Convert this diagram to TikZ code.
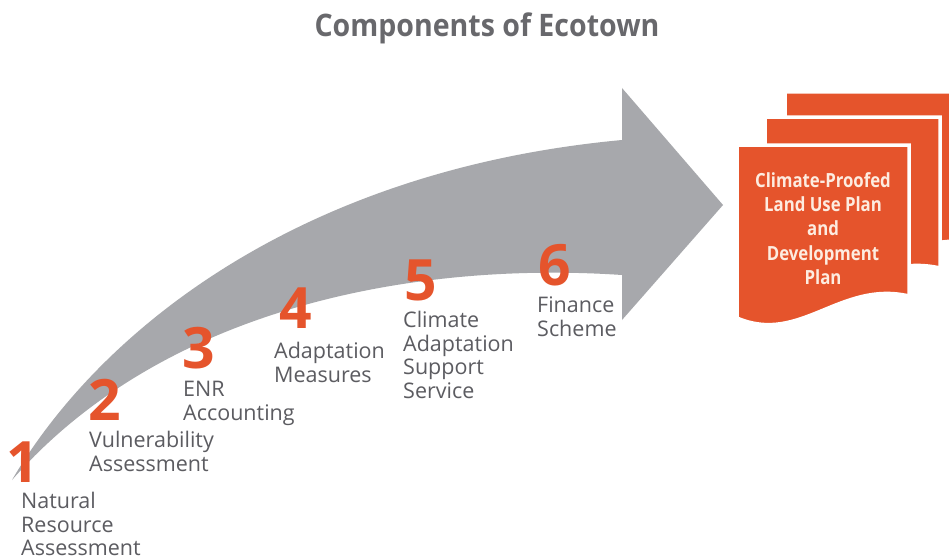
\documentclass[tikz,border=0pt]{standalone}
\usepackage{fontspec}
\setmainfont{Open Sans}
\newfontfamily\condfont[FakeStretch=0.92]{Open Sans}
\newfontfamily\pagefont[FakeStretch=0.86]{Open Sans}
\definecolor{ecoorange}{RGB}{229,84,44}
\definecolor{ecogray}{RGB}{167,168,172}
\definecolor{ecotext}{RGB}{92,92,97}
\definecolor{ecotitle}{RGB}{104,104,108}
\definecolor{ecocream}{RGB}{253,236,224}
\tikzset{
  num/.style={anchor=base, inner sep=0pt, text=ecoorange, font=\fontsize{57}{57}\selectfont\bfseries},
  lbl/.style={anchor=north west, inner sep=0pt, align=left, text=ecotext, font=\fontsize{21.5}{23.5}\selectfont},
  pagesheet/.style={fill=ecoorange, draw=white, line width=3.5pt, line join=miter}
}
\begin{document}
\begin{tikzpicture}[x=1pt,y=-1pt]
\useasboundingbox (0,0) rectangle (949,559);
\clip (0,0) rectangle (949,559);
\fill[white] (0,0) rectangle (949,559);
% title
\node[inner sep=0pt, anchor=base, text=ecotitle, font=\condfont\fontsize{31}{31}\selectfont\bfseries] (title) at (487,37) {Components of Ecotown};
% big curved arrow
\fill[ecogray] (12,480) .. controls (100,330) and (300,170) .. (622,140)
  -- (622,88) -- (723,205) -- (622,320) -- (622,275)
  .. controls (430,262) and (170,300) .. (12,480) -- cycle;
% pages (back to front)
\def\pageshape#1#2#3{%
  \path[pagesheet, shift={(#1,#2)}] (737,145) -- (#3,145) -- (#3,296)
    .. controls (840,280) and (800,345) .. (737,318) -- cycle;}
\pageshape{48}{-53}{960}
\pageshape{28}{-28}{912}
\pageshape{0}{0}{909}
\node[inner sep=0pt, anchor=north, align=center, text=ecocream, font=\pagefont\fontsize{19.5}{24.3}\selectfont\bfseries] (plan) at (823,172) {Climate-Proofed\\Land Use Plan\\and\\Development\\Plan};
% numbers
\node[num] (n1) at (23,482) {1};
\node[num] (n2) at (105,420) {2};
\node[num] (n3) at (199,368) {3};
\node[num] (n4) at (296,328) {4};
\node[num] (n5) at (421,300) {5};
\node[num] (n6) at (555,285) {6};
% labels
\node[lbl] (l1) at (21,492) {Natural\\Resource\\Assessment};
\node[lbl] (l2) at (89,431) {Vulnerability\\Assessment};
\node[lbl] (l3) at (183,381) {ENR\\Accounting};
\node[lbl] (l4) at (274,342) {Adaptation\\Measures};
\node[lbl] (l5) at (403,311) {Climate\\Adaptation\\Support\\Service};
\node[lbl] (l6) at (537,297) {Finance\\Scheme};
\end{tikzpicture}
\end{document}
